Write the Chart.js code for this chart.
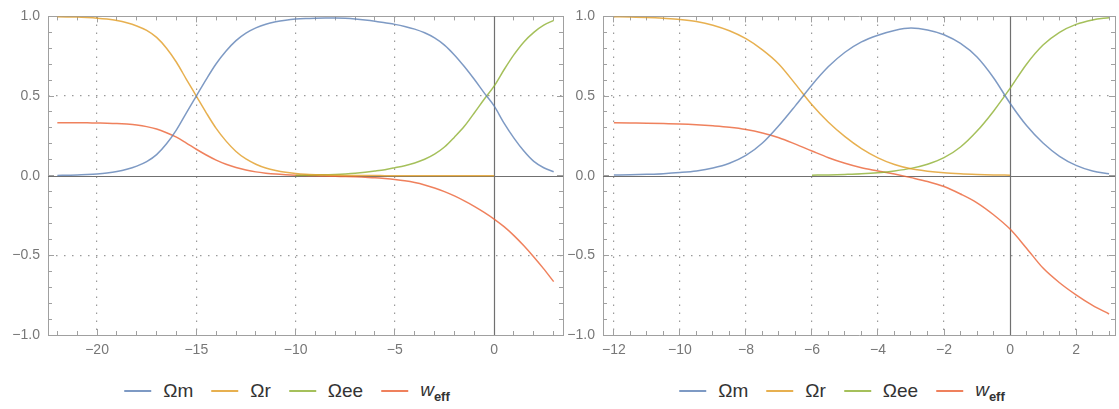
<!DOCTYPE html>
<html>
<head>
<meta charset="utf-8">
<script src="https://cdn.jsdelivr.net/npm/chart.js@4.4.1/dist/chart.umd.min.js"></script>
<style>
    body { margin: 0; background: #fff; width: 1119px; height: 409px; overflow: hidden; position: relative; font-family: "Liberation Sans", Arial, sans-serif; }
    .panel { position: absolute; top: 0; height: 362px; }
    .legend { position: absolute; top: 379px; height: 24px; display: flex; align-items: center; transform: translateX(-50%); white-space: nowrap; font-size: 19px; color: #333; }
    .legend .item { display: flex; align-items: center; margin: 0 9px; }
    .legend .sw { display: inline-block; width: 27px; height: 2px; margin-right: 12px; }
    .legend sub { font-size: 13px; font-weight: bold; vertical-align: -5px; }
</style>
</head>
<body>
    <div class="panel" style="left:0;width:566px"><canvas id="leftChart"></canvas></div>
    <div class="panel" style="left:560px;width:559px"><canvas id="rightChart"></canvas></div>
    <div class="legend" id="leftLegend" style="left:287px"></div>
    <div class="legend" id="rightLegend" style="left:842px"></div>

<script>
    // Données du graphique
    const seriesNames = ['Ωm', 'Ωr', 'Ωee', 'weff'];
    const legendHtml = ['Ωm', 'Ωr', 'Ωee', '<i>w</i><sub>eff</sub>'];

    // panneau gauche
    const xLeft = [-22, -21.5, -21, -20.5, -20, -19.5, -19, -18.5, -18, -17.5,
        -17, -16.5, -16, -15.5, -15, -14.5, -14, -13.5, -13, -12.5,
        -12, -11.5, -11, -10.5, -10, -9.5, -9, -8.5, -8, -7.5,
        -7, -6.5, -6, -5.5, -5, -4.5, -4, -3.5, -3, -2.5,
        -2, -1.5, -1, -0.5, 0, 0.5, 1, 1.5, 2, 2.5,
        3];
    const omLeft = [0.002, 0.003, 0.004, 0.007, 0.011, 0.017, 0.026, 0.040, 0.060, 0.088,
        0.132, 0.200, 0.288, 0.395, 0.500, 0.605, 0.703, 0.783, 0.848, 0.895,
        0.928, 0.951, 0.966, 0.976, 0.983, 0.987, 0.989, 0.990, 0.990, 0.988,
        0.984, 0.978, 0.970, 0.960, 0.950, 0.937, 0.920, 0.897, 0.865, 0.820,
        0.758, 0.685, 0.605, 0.520, 0.438, 0.330, 0.236, 0.155, 0.090, 0.050,
        0.025];
    const orLeft = [0.998, 0.997, 0.996, 0.993, 0.989, 0.983, 0.974, 0.960, 0.940, 0.912,
        0.868, 0.800, 0.712, 0.605, 0.500, 0.395, 0.297, 0.217, 0.152, 0.105,
        0.072, 0.048, 0.032, 0.021, 0.014, 0.009, 0.006, 0.004, 0.003, 0.002,
        0.001, 0.001, 0.001, 0, 0, 0, 0, 0, 0, 0,
        0, 0, 0, 0, 0, null, null, null, null, null,
        null];
    const oeLeft = [null, null, null, null, null, null, null, null, null, null,
        null, null, null, null, null, null, null, null, null, null,
        null, null, null, null, 0.002, 0.003, 0.004, 0.006, 0.008, 0.011,
        0.015, 0.021, 0.029, 0.038, 0.050, 0.063, 0.080, 0.103, 0.135, 0.180,
        0.242, 0.310, 0.394, 0.480, 0.562, 0.665, 0.760, 0.840, 0.900, 0.945,
        0.975];
    const wLeft = [0.333, 0.333, 0.333, 0.332, 0.331, 0.330, 0.328, 0.324, 0.318, 0.308,
        0.293, 0.270, 0.242, 0.205, 0.166, 0.130, 0.098, 0.072, 0.052, 0.036,
        0.024, 0.016, 0.010, 0.006, 0.003, 0.001, -0.001, -0.002, -0.004, -0.005,
        -0.007, -0.010, -0.013, -0.018, -0.024, -0.032, -0.043, -0.058, -0.077, -0.100,
        -0.127, -0.158, -0.192, -0.230, -0.272, -0.320, -0.376, -0.440, -0.510, -0.585,
        -0.665];

    // panneau droit
    const xRight = [-12, -11.5, -11, -10.5, -10, -9.5, -9, -8.5, -8, -7.5,
        -7, -6.5, -6, -5.5, -5, -4.5, -4, -3.5, -3, -2.5,
        -2, -1.5, -1, -0.5, 0, 0.5, 1, 1.5, 2, 2.5,
        3];
    const omRight = [0.004, 0.006, 0.009, 0.013, 0.020, 0.030, 0.048, 0.078, 0.127, 0.205,
        0.315, 0.440, 0.570, 0.685, 0.775, 0.840, 0.882, 0.912, 0.927, 0.915,
        0.885, 0.830, 0.745, 0.615, 0.455, 0.315, 0.205, 0.122, 0.065, 0.030,
        0.012];
    const orRight = [0.998, 0.996, 0.993, 0.988, 0.981, 0.968, 0.945, 0.910, 0.860, 0.790,
        0.700, 0.575, 0.445, 0.335, 0.245, 0.170, 0.112, 0.070, 0.043, 0.028,
        0.018, 0.012, 0.008, 0.005, 0.003, null, null, null, null, null,
        null];
    const oeRight = [null, null, null, null, null, null, null, null, null, null,
        null, null, 0.003, 0.005, 0.008, 0.012, 0.019, 0.030, 0.046, 0.072,
        0.113, 0.180, 0.280, 0.405, 0.548, 0.700, 0.820, 0.900, 0.950, 0.978,
        0.992];
    const wRight = [0.332, 0.331, 0.330, 0.328, 0.325, 0.320, 0.313, 0.304, 0.290, 0.268,
        0.238, 0.198, 0.155, 0.113, 0.078, 0.050, 0.030, 0.010, -0.012, -0.036,
        -0.068, -0.115, -0.170, -0.245, -0.335, -0.455, -0.580, -0.672, -0.748, -0.814,
        -0.868];

    // axes : bornes, pas des petites graduations et des graduations principales
    const leftRange = [-22.47, 3.47];
    const rightRange = [-12.33, 3.18];
    const yRange = [-1, 1];
    const leftSteps = [1, 5];
    const rightSteps = [0.5, 2];
    const ySteps = [0.1, 0.5];

    const colors = ['rgba(94, 129, 181, 0.8)', 'rgba(225, 156, 36, 0.8)', 'rgba(143, 176, 50, 0.8)', 'rgba(235, 98, 53, 0.8)'];
    const frameColor = '#a0a0a0';

    function isMajor(v, step) {
        const r = v / step;
        return Math.abs(r - Math.round(r)) < 1e-6;
    }

    function fmt(v, digits) {
        const s = Math.abs(v).toFixed(digits);
        return v < -1e-9 ? '\u2212' + s : s;
    }

    // axes secondaires sans texte : cadre + graduations tournées vers l'intérieur
    function frameScale(axis, position, range, step, len, withBorder) {
        return {
            type: 'linear',
            axis: axis,
            position: position,
            weight: -1,
            min: range[0],
            max: range[1],
            afterFit: s => { if (axis === 'x') s.height = 0; else s.width = 0; },
            border: { display: withBorder, color: frameColor, width: 1 },
            grid: { drawOnChartArea: false, drawTicks: true, tickLength: -len, tickColor: frameColor, tickWidth: 1 },
            ticks: { display: false, stepSize: step, includeBounds: false, autoSkip: false }
        };
    }

    // axes en zéro
    const zeroAxesPlugin = {
        id: 'zeroAxes',
        beforeDatasetsDraw(chart) {
            const ctx = chart.ctx;
            const a = chart.chartArea;
            const x0 = Math.round(chart.scales.x.getPixelForValue(0)) + 0.5;
            const y0 = Math.round(chart.scales.y.getPixelForValue(0)) + 0.5;
            ctx.save();
            ctx.setLineDash([]);
            ctx.strokeStyle = '#707070';
            ctx.lineWidth = 1.2;
            ctx.beginPath();
            ctx.moveTo(x0, a.top); ctx.lineTo(x0, a.bottom);
            ctx.moveTo(a.left, y0); ctx.lineTo(a.right, y0);
            ctx.stroke();
            ctx.restore();
        }
    };

    function makeChart(canvasId, xs, series, range, steps, yWidth, padRight) {
        const datasets = series.map((ys, i) => ({
            label: seriesNames[i],
            data: xs.map((x, j) => ({ x: x, y: ys[j] })).filter(p => p.y !== null),
            borderColor: colors[i],
            borderWidth: 1.5,
            pointRadius: 0,
            fill: false,
            cubicInterpolationMode: 'monotone'
        }));

        const tickFont = { family: '"Liberation Sans", Arial, sans-serif', size: 14 };

        return new Chart(document.getElementById(canvasId), {
            type: 'line',
            data: { datasets: datasets },
            options: {
                responsive: true,
                maintainAspectRatio: false,
                animation: false,
                layout: { padding: { top: 16, right: padRight, left: 0, bottom: 0 } },
                plugins: {
                    legend: { display: false },
                    tooltip: { enabled: false }
                },
                scales: {
                    x: {
                        type: 'linear',
                        min: range[0],
                        max: range[1],
                        afterFit: s => { s.height = 27; },
                        border: { display: false, dash: [1.5, 6.5] },
                        grid: {
                            drawTicks: false,
                            lineWidth: 1.2,
                            color: c => (isMajor(c.tick.value, steps[1]) && Math.abs(c.tick.value) > 1e-9) ? '#9a9a9a' : 'rgba(0,0,0,0)'
                        },
                        ticks: {
                            stepSize: steps[0],
                            includeBounds: false,
                            autoSkip: false,
                            maxRotation: 0,
                            padding: 7,
                            color: '#777',
                            font: tickFont,
                            callback: v => isMajor(v, steps[1]) ? fmt(v, 0) : ''
                        }
                    },
                    y: {
                        min: yRange[0],
                        max: yRange[1],
                        afterFit: s => { s.width = yWidth; },
                        border: { display: false, dash: [1.5, 6.5] },
                        grid: {
                            drawTicks: false,
                            lineWidth: 1.2,
                            color: c => (Math.abs(Math.abs(c.tick.value) - 0.5) < 1e-6) ? '#9a9a9a' : 'rgba(0,0,0,0)'
                        },
                        ticks: {
                            stepSize: ySteps[0],
                            autoSkip: false,
                            padding: 8,
                            color: '#777',
                            font: tickFont,
                            callback: v => isMajor(v, ySteps[1]) ? fmt(v, 1) : ''
                        }
                    },
                    xBottom: frameScale('x', 'bottom', range, steps[0], 4, true),
                    xBottomMaj: frameScale('x', 'bottom', range, steps[1], 6, false),
                    xTop: frameScale('x', 'top', range, steps[0], 4, true),
                    xTopMaj: frameScale('x', 'top', range, steps[1], 6, false),
                    yLeft: frameScale('y', 'left', yRange, ySteps[0], 4, true),
                    yLeftMaj: frameScale('y', 'left', yRange, ySteps[1], 6, false),
                    yRight: frameScale('y', 'right', yRange, ySteps[0], 4, true),
                    yRightMaj: frameScale('y', 'right', yRange, ySteps[1], 6, false)
                }
            },
            plugins: [zeroAxesPlugin]
        });
    }

    function buildLegend(chart, el) {
        el.innerHTML = chart.data.datasets.map((ds, i) => `
            <span class="item">
                <span class="sw" style="background:${ds.borderColor}"></span>
                <span>${legendHtml[i]}</span>
            </span>`).join('');
    }

    const leftChart = makeChart('leftChart', xLeft, [omLeft, orLeft, oeLeft, wLeft], leftRange, leftSteps, 48, 3);
    const rightChart = makeChart('rightChart', xRight, [omRight, orRight, oeRight, wRight], rightRange, rightSteps, 43, 4);

    buildLegend(leftChart, document.getElementById('leftLegend'));
    buildLegend(rightChart, document.getElementById('rightLegend'));
</script>
</body>
</html>
